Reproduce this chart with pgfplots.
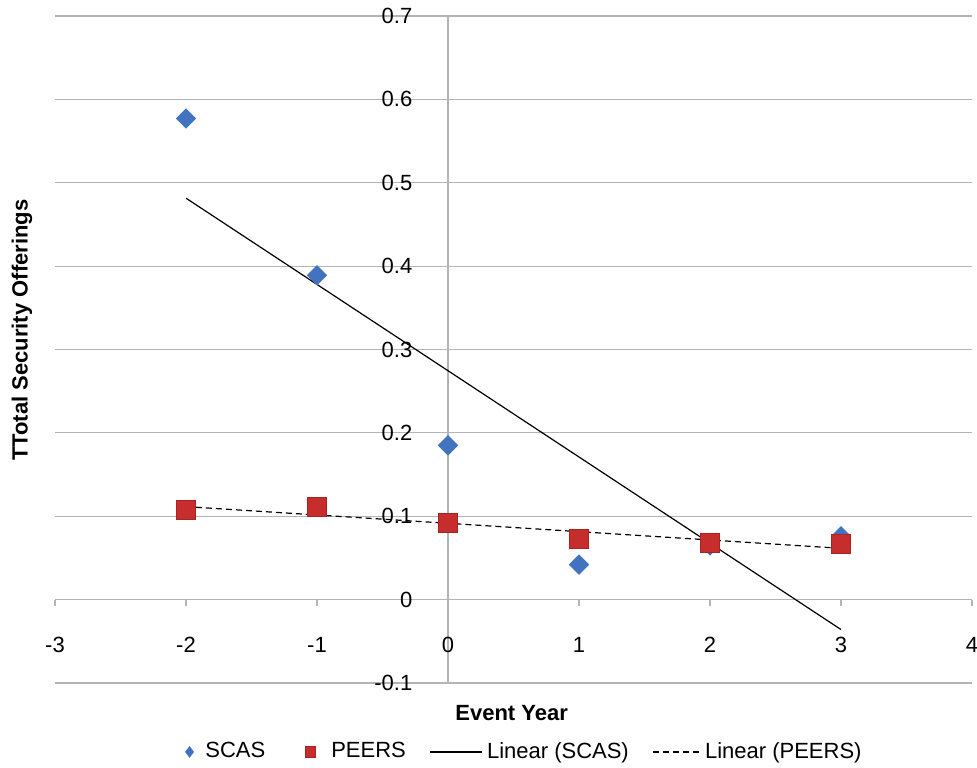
\documentclass[border=0pt]{standalone}
\usepackage{pgfplots}
\pgfplotsset{compat=1.18}
\usepackage{fontspec}
\setmainfont{Liberation Sans}
\definecolor{scas}{RGB}{66,115,192}
\definecolor{peers}{RGB}{200,45,45}
\definecolor{peersdark}{RGB}{170,35,35}
\definecolor{gridc}{RGB}{180,180,180}
\pgfplotsset{
  diamleg/.style={legend image code/.code={\path[draw=none,fill=none] (0pt,0pt) -- (8.5pt,0pt); \draw[##1] plot coordinates {(2.6pt,0pt)};}},
  sqleg/.style={legend image code/.code={\path[draw=none,fill=none] (0pt,0pt) -- (19pt,0pt); \draw[##1] plot coordinates {(10.5pt,0pt)};}},
  solidleg/.style={legend image code/.code={\draw[##1] (0pt,0pt) -- (26pt,0pt);}},
  dashleg/.style={legend image code/.code={\draw[##1] (0pt,0pt) -- (23.5pt,0pt);}},
}
\begin{document}
\fontsize{11}{13}\selectfont
\begin{tikzpicture}
\begin{axis}[
  scale only axis, width=458.5pt, height=333.5pt,
  xmin=-3, xmax=4, ymin=-0.1, ymax=0.7,
  axis x line=middle, axis y line=middle,
  axis line style={gridc, line width=0.6pt, -},
  hide obscured x ticks=false, hide obscured y ticks=false,
  xtick={-3,-2,-1,0,1,2,3,4},
  xticklabels={-3,-2,-1,0,1,2,3,4},
  ytick={-0.1,0,0.1,0.2,0.3,0.4,0.5,0.6,0.7},
  yticklabels={-0.1,0,0.1,0.2,0.3,0.4,0.5,0.6,0.7},
  ymajorgrids, grid style={gridc, line width=0.6pt},
  tick style={gridc, line width=0.6pt},
  tick align=outside, major tick length=3pt,
  xticklabel style={yshift=-12pt, font=\fontsize{11}{13}\selectfont},
  yticklabel style={xshift=-11pt, font=\fontsize{11}{13}\selectfont},
  /pgf/number format/assume math mode=true,
  xlabel={\textbf{Event Year}},
  ylabel={\textbf{TTotal Security Offerings}},
  x label style={at={(axis description cs:0.498,-0.045)}, anchor=center, font=\fontsize{11}{13}\selectfont},
  y label style={at={(axis description cs:-0.036,0.529)}, anchor=center, rotate=90, font=\fontsize{11}{13}\selectfont},
  legend columns=4,
  legend style={draw=none, at={(axis description cs:0.5125,-0.1034)}, anchor=center,
    font=\fontsize{11}{13}\selectfont,
    /tikz/every even column/.append style={column sep=10pt}},
  clip=false,
]
\addplot[only marks, mark=square*, mark size=3.4pt, mark options={rotate=45, fill=scas, draw=scas}, diamleg,
  legend image post style={mark=diamond*, mark size=2.6pt, mark options={fill=scas, draw=scas}}]
  coordinates {(-2,0.577) (-1,0.389) (0,0.185) (1,0.042) (2,0.065) (3,0.076)};
\addlegendentry{SCAS}
\addplot[only marks, mark=square*, mark size=4.75pt, mark options={fill=peers, draw=peersdark}, sqleg,
  legend image post style={mark size=2.6pt}]
  coordinates {(-2,0.108) (-1,0.111) (0,0.092) (1,0.073) (2,0.068) (3,0.067)};
\addlegendentry{PEERS}
\addplot[black, line width=0.6pt, no marks, solidleg]
  coordinates {(-2,0.4815) (3,-0.0359)};
\addlegendentry{Linear (SCAS)}
\addplot[black, line width=0.6pt, no marks, dash pattern=on 3pt off 2pt, dashleg]
  coordinates {(-2,0.1115) (3,0.0615)};
\addlegendentry{Linear (PEERS)}
\coordinate (bbtl) at (axis description cs:-0.06,1.024);
\coordinate (bbbr) at (axis description cs:1.0055,-0.126);
\end{axis}
\pgfresetboundingbox
\path[use as bounding box] (bbtl) rectangle (bbbr);
\end{tikzpicture}
\end{document}
